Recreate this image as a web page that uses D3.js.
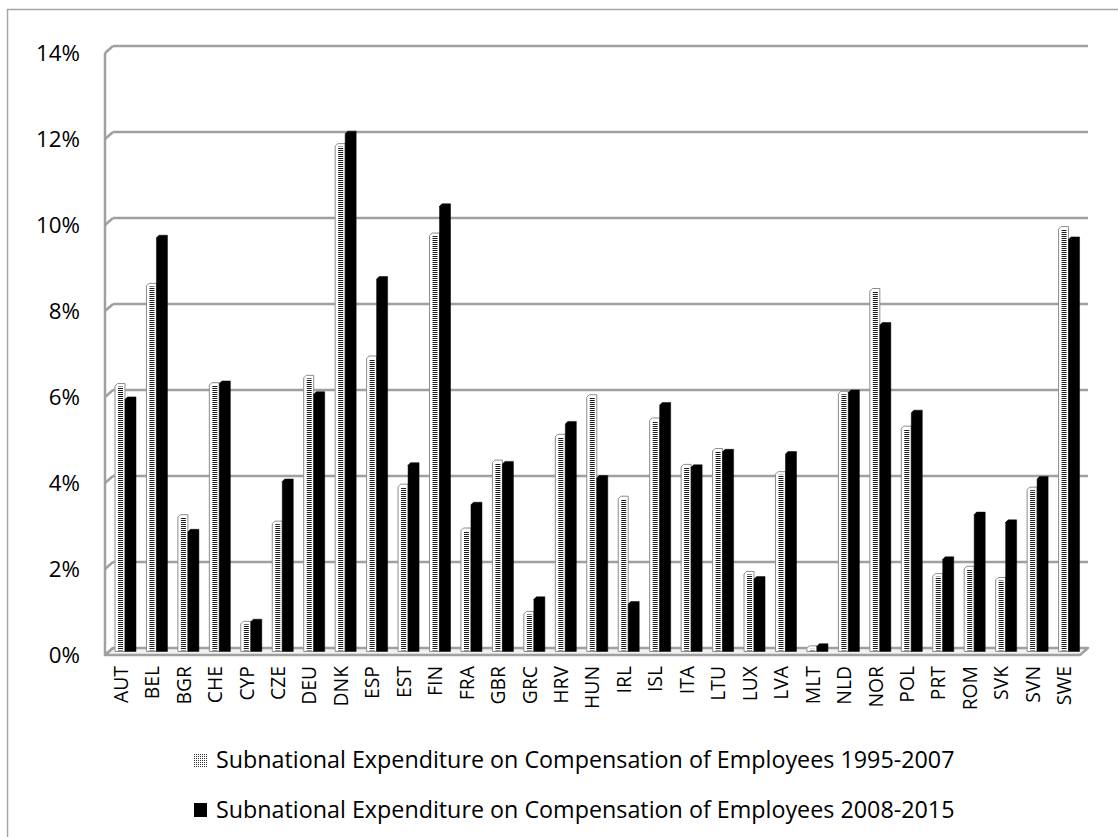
<!DOCTYPE html>
<html>
<head>
<meta charset="utf-8">
<script src="https://cdn.jsdelivr.net/npm/d3@7"></script>
<style>
  html, body { margin: 0; padding: 0; background: #fff; }
  svg { display: block; }
</style>
</head>
<body>
<svg id="chart" width="1118" height="837"></svg>
<script>
// ---------- DATA ----------
const categories = ["AUT","BEL","BGR","CHE","CYP","CZE","DEU","DNK","ESP","EST","FIN","FRA","GBR","GRC","HRV","HUN","IRL","ISL","ITA","LTU","LUX","LVA","MLT","NLD","NOR","POL","PRT","ROM","SVK","SVN","SWE"];
const series1995 = [6.15,8.48,3.10,6.17,0.62,2.95,6.34,11.73,6.79,3.81,9.65,2.79,4.37,0.85,4.97,5.89,3.53,5.35,4.27,4.64,1.78,4.10,0.05,5.97,8.36,5.16,1.73,1.90,1.64,3.74,9.80];
const series2008 = [5.84,9.60,2.76,6.21,0.67,3.93,5.96,12.02,8.64,4.31,10.33,3.39,4.34,1.19,5.27,4.01,1.08,5.71,4.26,4.62,1.66,4.57,0.10,6.00,7.57,5.53,2.12,3.16,2.98,3.99,9.56];
const yTicks = [0,2,4,6,8,10,12,14];
const legendLabels = [
  "Subnational Expenditure on Compensation of Employees 1995-2007",
  "Subnational Expenditure on Compensation of Employees 2008-2015"
];

// ---------- LAYOUT ----------
const FONT = "'Open Sans', 'Noto Sans', sans-serif";
const svg = d3.select("#chart");
const depthX = 8, depthY = 7;
const frontLeft = 105, frontRight = 1080, frontFloor = 655;

const y = d3.scaleLinear().domain([0, 14]).range([frontFloor - depthY, 46]);       // back wall
const yFront = d3.scaleLinear().domain([0, 14]).range([frontFloor, 46 + depthY]);  // front plane
const x = d3.scaleBand().domain(categories).range([frontLeft, frontRight]);
const xs = d3.scaleBand().domain(["a", "b"]).range([10, 30]);

function fitSize(text, target) {
  const t = svg.append("text").attr("font-family", FONT).attr("font-size", 20).text(text);
  const w = t.node().getComputedTextLength();
  t.remove();
  return 20 * target / w;
}

// patterns
const defs = svg.append("defs");
const pat = defs.append("pattern").attr("id", "dash")
  .attr("patternUnits", "userSpaceOnUse").attr("width", 4).attr("height", 2);
pat.append("rect").attr("x", 0).attr("y", 0).attr("width", 4).attr("height", 1).attr("fill", "#1a1a1a");
const pat2 = defs.append("pattern").attr("id", "dots")
  .attr("patternUnits", "userSpaceOnUse").attr("width", 2).attr("height", 2);
pat2.append("rect").attr("x", 0).attr("y", 0).attr("width", 1).attr("height", 1).attr("fill", "#333");

// outer border
svg.append("rect").attr("x", 7.5).attr("y", 9.5).attr("width", 1125).attr("height", 840)
  .attr("fill", "none").attr("stroke", "#a6a6a6").attr("stroke-width", 1.5);

const gridColor = "#a0a0a0";
// floor
svg.append("polygon")
  .attr("points", [[frontLeft, frontFloor], [frontLeft + depthX, frontFloor - depthY],
                   [frontRight + depthX, frontFloor - depthY], [frontRight, frontFloor]].join(" "))
  .attr("fill", "#f2f2f2").attr("stroke", gridColor).attr("stroke-width", 2.5)
  .attr("stroke-linejoin", "round");

// gridlines on back wall + side wall slants
const grid = svg.append("g");
grid.selectAll("line.g").data(yTicks.filter(d => d > 0)).join("line")
  .attr("x1", frontLeft + depthX).attr("x2", frontRight + depthX)
  .attr("y1", d => y(d)).attr("y2", d => y(d))
  .attr("stroke", gridColor).attr("stroke-width", 2.5);
grid.selectAll("line.s").data(yTicks).join("line")
  .attr("x1", frontLeft).attr("x2", frontLeft + depthX)
  .attr("y1", d => yFront(d)).attr("y2", d => y(d))
  .attr("stroke", gridColor).attr("stroke-width", 2.5);
// left wall vertical
svg.append("line").attr("x1", frontLeft).attr("x2", frontLeft)
  .attr("y1", yFront(14)).attr("y2", yFront(0))
  .attr("stroke", gridColor).attr("stroke-width", 2.5);

// bars
const barBottom = frontFloor - depthY / 2;
function barPath(x0, x1, top) {
  const c = 2.5;
  return `M${x0},${barBottom} L${x0},${top + c} L${x0 + c},${top} L${x1},${top} L${x1},${barBottom} Z`;
}
const bars = svg.append("g");
categories.forEach((c, i) => {
  const bx = x(c);
  // light (1995-2007)
  const l0 = bx + xs("a"), l1 = l0 + xs.bandwidth();
  const lt = y(series1995[i]);
  bars.append("path").attr("d", barPath(l0, l1, lt))
    .attr("fill", "#fff").attr("stroke", "#8c8c8c").attr("stroke-width", 1);
  if (barBottom - lt > 4) {
    bars.append("rect").attr("x", l0 + 3).attr("y", lt + 3)
      .attr("width", xs.bandwidth() - 5).attr("height", barBottom - lt - 4)
      .attr("fill", "url(#dash)");
  }
  // dark (2008-2015)
  const d0 = bx + xs("b"), d1 = d0 + xs.bandwidth() + 1;
  bars.append("path").attr("d", barPath(d0, d1, y(series2008[i])))
    .attr("fill", "#000").attr("stroke", "#000").attr("stroke-width", 0.5);
});

// y axis labels
const yFs = fitSize("14%", 44);
const yAxis = svg.append("g").attr("transform", `translate(${frontLeft},0)`)
  .call(d3.axisLeft(yFront).tickValues(yTicks).tickFormat(d => d + "%").tickSize(0).tickPadding(25));
yAxis.select(".domain").remove();
yAxis.selectAll("text").attr("font-family", FONT).attr("font-size", yFs).attr("fill", "#000");

// x axis labels
const xFs = fitSize("AUT", 37);
const xAxis = svg.append("g").attr("transform", `translate(0,${frontFloor})`)
  .call(d3.axisBottom(x).tickSize(0));
xAxis.select(".domain").remove();
xAxis.selectAll("text")
  .attr("font-family", FONT).attr("font-size", xFs).attr("fill", "#000")
  .attr("transform", "rotate(-90)")
  .attr("text-anchor", "end")
  .attr("x", -11).attr("y", 0).attr("dy", "0.36em");

// legend
const lgFs = fitSize(legendLabels[0], 739);
const legendY = [760, 810];
const lg = svg.append("g");
legendLabels.forEach((t, i) => {
  const cy = legendY[i];
  if (i === 0) {
    lg.append("rect").attr("x", 194).attr("y", cy - 7).attr("width", 13).attr("height", 14)
      .attr("fill", "url(#dots)");
  } else {
    lg.append("rect").attr("x", 194).attr("y", cy - 7).attr("width", 13).attr("height", 14)
      .attr("fill", "#000");
  }
  lg.append("text").attr("x", 216).attr("y", cy).attr("dy", "0.35em")
    .attr("font-family", FONT).attr("font-size", lgFs).attr("fill", "#000").text(t);
});
</script>
</body>
</html>
